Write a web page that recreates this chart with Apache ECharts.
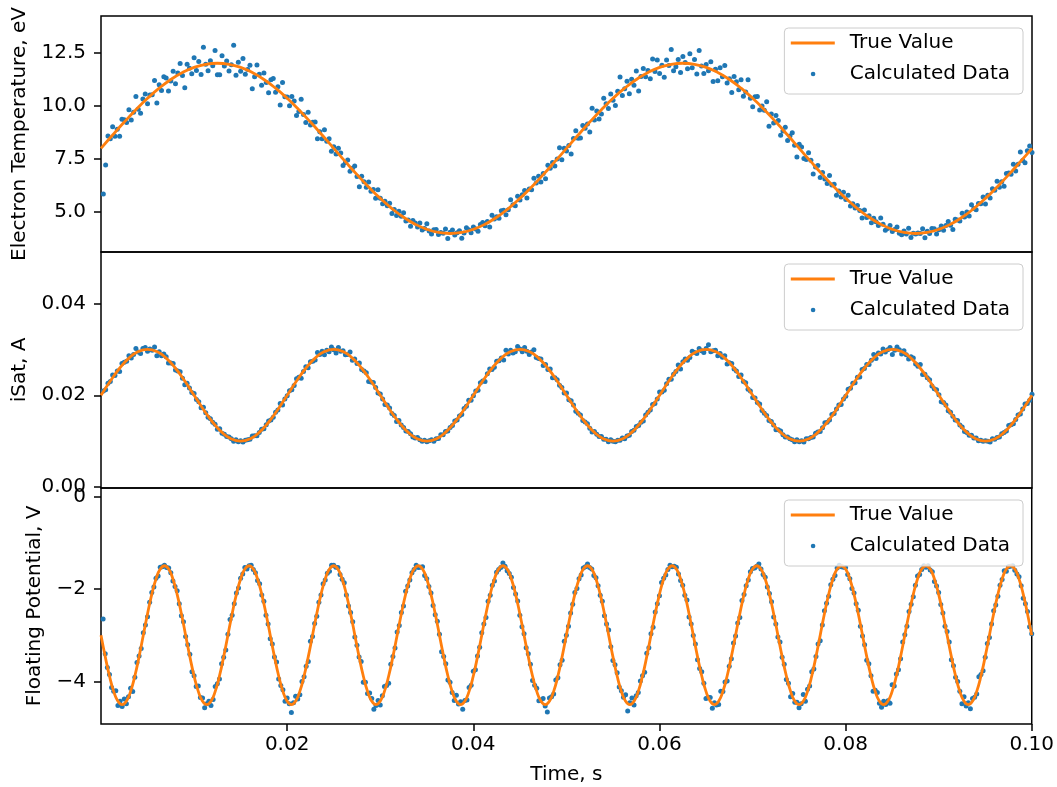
<!DOCTYPE html>
<html><head><meta charset="utf-8">
<script src="https://cdn.jsdelivr.net/npm/echarts@6/dist/echarts.min.js"></script>
<style>html,body{margin:0;padding:0;background:#fff}#c{width:1057px;height:787px}</style>
</head><body><div id="c"></div><script>
// ---------- sampling of the time axis (s) ----------
const tempTimeStep = 0.00025;   // Calculated Data samples, Electron Temperature
const isatTimeStep = 0.00025;   // Calculated Data samples, iSat
const vfTimeStep = 0.1 / 440;   // Calculated Data samples, Floating Potential
const tempTrueStep = 0.00125;   // True Value samples
const isatTrueStep = 0.001;
const vfTrueStep = 0.1 / 220;

// ---------- Electron Temperature, eV ----------
const tempData = [
5.85,7.22,8.58,8.45,9.02,8.57,8.90,8.57,9.37,9.35,
9.22,9.81,9.33,9.70,10.44,9.84,9.65,10.32,10.56,10.10,
10.51,10.52,11.19,10.13,10.99,10.72,11.36,11.31,10.69,11.17,
11.62,11.04,11.54,11.99,11.42,10.85,11.95,11.76,11.51,12.26,
11.66,12.08,11.47,12.75,11.95,11.65,12.12,11.88,12.60,11.46,
11.46,12.35,11.87,12.11,11.63,11.93,12.85,11.44,12.05,11.62,
12.22,11.48,11.71,11.90,10.80,11.37,11.92,11.48,10.97,11.54,
11.09,10.61,11.23,11.28,10.64,10.90,10.04,11.09,10.42,10.41,
10.00,10.44,10.22,9.54,9.73,10.31,9.59,9.21,9.70,9.10,
9.23,9.24,8.45,8.78,8.45,8.88,8.33,8.45,7.86,8.07,
7.73,8.00,7.78,7.19,7.33,7.45,6.92,7.06,7.17,6.68,
6.20,6.69,6.43,6.17,6.42,5.98,6.07,5.65,6.06,5.65,
5.40,5.51,5.30,5.42,4.94,5.13,4.84,5.04,4.81,4.97,
4.59,4.63,4.34,4.61,4.49,4.31,4.49,4.16,4.24,4.46,
4.12,3.97,4.17,4.19,3.95,4.05,4.01,4.21,3.77,4.06,
4.16,3.93,4.03,4.13,3.78,4.02,4.27,4.17,4.04,4.31,
4.21,4.10,4.42,4.52,4.36,4.56,4.30,4.86,4.68,4.79,
4.72,5.07,5.09,4.88,5.12,5.59,5.35,5.30,5.75,5.57,
5.82,6.02,5.67,6.09,6.05,6.59,6.37,6.69,6.42,6.82,
6.57,7.21,7.07,7.34,7.17,7.50,8.03,7.47,8.01,7.88,
8.13,7.73,8.46,8.83,8.47,8.49,9.08,8.95,9.15,8.77,
9.89,9.33,9.76,9.38,9.61,10.35,10.10,9.87,10.56,10.26,
10.01,10.68,11.35,10.48,10.80,11.15,10.57,11.25,10.96,11.64,
10.70,11.38,11.75,11.37,11.66,11.27,12.20,11.61,12.15,11.52,
11.91,11.34,12.15,11.89,12.65,11.65,11.84,12.17,11.57,12.32,
12.04,11.74,12.45,11.79,12.17,11.50,12.60,11.87,11.52,11.94,
11.65,12.07,11.14,11.72,11.18,11.79,11.37,11.89,11.07,11.27,
10.62,11.38,11.13,10.76,11.22,10.45,10.65,11.22,10.36,9.95,
10.43,10.44,9.80,9.99,9.79,10.19,9.04,9.61,9.19,9.54,
9.31,8.62,8.82,8.99,8.37,8.58,8.73,8.15,7.59,8.19,
8.06,7.52,7.48,7.79,7.44,6.79,7.13,7.19,6.63,6.86,
6.56,6.35,6.72,6.28,6.31,5.80,6.00,5.72,5.94,5.60,
5.80,5.29,5.40,5.20,5.31,5.08,4.73,5.10,4.75,4.83,
4.51,4.72,4.55,4.38,4.73,4.43,4.15,4.24,4.37,4.09,
4.19,4.30,4.01,3.94,4.12,3.97,4.25,3.81,4.01,3.98,
4.02,4.00,4.22,3.80,4.11,4.00,4.24,4.22,3.98,4.17,
4.35,4.15,4.37,4.56,4.39,4.19,4.67,4.63,4.59,4.95,
4.77,5.01,4.82,5.35,5.17,5.12,5.41,5.40,5.72,5.39,
5.80,5.67,6.10,6.03,6.46,6.17,6.43,6.22,6.82,6.84,
6.78,7.25,6.94,7.25,7.83,7.43,7.32,7.89,8.11,7.81
];
const tempTrue = [
8,8.626,9.236,9.816,10.351,10.828,11.236,11.564,11.804,11.951,12,11.951,11.804,11.564,11.236,10.828,10.351,9.816,9.236,8.626,
8,7.374,6.764,6.184,5.649,5.172,4.764,4.436,4.196,4.049,4,4.049,4.196,4.436,4.764,5.172,5.649,6.184,6.764,7.374,
8,8.626,9.236,9.816,10.351,10.828,11.236,11.564,11.804,11.951,12,11.951,11.804,11.564,11.236,10.828,10.351,9.816,9.236,8.626,
8,7.374,6.764,6.184,5.649,5.172,4.764,4.436,4.196,4.049,4,4.049,4.196,4.436,4.764,5.172,5.649,6.184,6.764,7.374,
8
];

// ---------- iSat, A ----------
const isatData = [
0.0209,0.0212,0.0226,0.0230,0.0244,0.0243,0.0253,0.0252,0.0269,0.0272,
0.0274,0.0286,0.0281,0.0289,0.0302,0.0294,0.0291,0.0302,0.0304,0.0296,
0.0301,0.0298,0.0305,0.0286,0.0295,0.0286,0.0290,0.0284,0.0270,0.0270,
0.0269,0.0255,0.0253,0.0251,0.0237,0.0223,0.0226,0.0216,0.0206,0.0204,
0.0191,0.0186,0.0173,0.0174,0.0162,0.0152,0.0149,0.0141,0.0137,0.0126,
0.0127,0.0117,0.0115,0.0110,0.0109,0.0105,0.0100,0.0103,0.0099,0.0101,
0.0098,0.0102,0.0103,0.0104,0.0111,0.0112,0.0112,0.0119,0.0126,0.0127,
0.0136,0.0144,0.0146,0.0152,0.0163,0.0168,0.0182,0.0179,0.0192,0.0199,
0.0210,0.0212,0.0221,0.0236,0.0239,0.0237,0.0252,0.0262,0.0260,0.0273,
0.0274,0.0277,0.0293,0.0289,0.0296,0.0288,0.0298,0.0295,0.0305,0.0299,
0.0292,0.0304,0.0296,0.0297,0.0288,0.0289,0.0294,0.0276,0.0279,0.0269,
0.0270,0.0256,0.0253,0.0249,0.0230,0.0229,0.0228,0.0217,0.0205,0.0203,
0.0192,0.0180,0.0179,0.0172,0.0160,0.0156,0.0143,0.0145,0.0135,0.0130,
0.0122,0.0121,0.0116,0.0109,0.0107,0.0108,0.0103,0.0100,0.0102,0.0099,
0.0101,0.0103,0.0100,0.0105,0.0106,0.0114,0.0114,0.0121,0.0122,0.0130,
0.0134,0.0144,0.0146,0.0155,0.0158,0.0171,0.0176,0.0189,0.0189,0.0199,
0.0209,0.0211,0.0227,0.0231,0.0230,0.0247,0.0257,0.0256,0.0261,0.0274,
0.0275,0.0281,0.0277,0.0298,0.0290,0.0298,0.0292,0.0295,0.0306,0.0301,
0.0295,0.0304,0.0296,0.0289,0.0294,0.0299,0.0282,0.0280,0.0279,0.0265,
0.0267,0.0256,0.0257,0.0238,0.0238,0.0234,0.0222,0.0217,0.0205,0.0205,
0.0190,0.0188,0.0179,0.0165,0.0161,0.0157,0.0145,0.0142,0.0138,0.0128,
0.0120,0.0121,0.0115,0.0110,0.0110,0.0104,0.0104,0.0099,0.0103,0.0100,
0.0099,0.0102,0.0102,0.0107,0.0105,0.0111,0.0113,0.0121,0.0124,0.0132,
0.0134,0.0141,0.0144,0.0157,0.0163,0.0168,0.0180,0.0182,0.0192,0.0207,
0.0207,0.0211,0.0225,0.0235,0.0235,0.0246,0.0252,0.0266,0.0257,0.0273,
0.0279,0.0276,0.0282,0.0296,0.0293,0.0291,0.0302,0.0297,0.0293,0.0302,
0.0310,0.0295,0.0297,0.0298,0.0286,0.0291,0.0283,0.0286,0.0268,0.0271,
0.0269,0.0257,0.0253,0.0241,0.0244,0.0230,0.0227,0.0213,0.0209,0.0195,
0.0194,0.0184,0.0181,0.0167,0.0161,0.0156,0.0145,0.0143,0.0135,0.0125,
0.0125,0.0122,0.0114,0.0109,0.0109,0.0105,0.0103,0.0099,0.0103,0.0099,
0.0101,0.0098,0.0105,0.0105,0.0108,0.0109,0.0117,0.0120,0.0121,0.0129,
0.0140,0.0141,0.0146,0.0158,0.0160,0.0170,0.0179,0.0180,0.0192,0.0198,
0.0213,0.0215,0.0226,0.0227,0.0239,0.0240,0.0256,0.0258,0.0267,0.0267,
0.0276,0.0289,0.0280,0.0292,0.0290,0.0301,0.0294,0.0299,0.0304,0.0289,
0.0298,0.0305,0.0299,0.0290,0.0297,0.0288,0.0279,0.0284,0.0281,0.0268,
0.0263,0.0267,0.0245,0.0246,0.0238,0.0234,0.0220,0.0214,0.0212,0.0201,
0.0186,0.0184,0.0179,0.0166,0.0163,0.0154,0.0146,0.0145,0.0135,0.0131,
0.0121,0.0119,0.0113,0.0113,0.0107,0.0107,0.0101,0.0102,0.0100,0.0101,
0.0100,0.0098,0.0105,0.0104,0.0108,0.0109,0.0116,0.0119,0.0122,0.0134,
0.0136,0.0138,0.0147,0.0157,0.0159,0.0170,0.0181,0.0182,0.0189,0.0202
];
const isatTrue = [
0.02,0.02309,0.02588,0.02809,0.02951,0.03,0.02951,0.02809,0.02588,0.02309,0.02,0.01691,0.01412,0.01191,0.01049,0.01,0.01049,0.01191,0.01412,0.01691,
0.02,0.02309,0.02588,0.02809,0.02951,0.03,0.02951,0.02809,0.02588,0.02309,0.02,0.01691,0.01412,0.01191,0.01049,0.01,0.01049,0.01191,0.01412,0.01691,
0.02,0.02309,0.02588,0.02809,0.02951,0.03,0.02951,0.02809,0.02588,0.02309,0.02,0.01691,0.01412,0.01191,0.01049,0.01,0.01049,0.01191,0.01412,0.01691,
0.02,0.02309,0.02588,0.02809,0.02951,0.03,0.02951,0.02809,0.02588,0.02309,0.02,0.01691,0.01412,0.01191,0.01049,0.01,0.01049,0.01191,0.01412,0.01691,
0.02,0.02309,0.02588,0.02809,0.02951,0.03,0.02951,0.02809,0.02588,0.02309,0.02,0.01691,0.01412,0.01191,0.01049,0.01,0.01049,0.01191,0.01412,0.01691,
0.02
];

// ---------- Floating Potential, V ----------
const vfData = [
-2.65,-3.40,-3.70,-3.85,-4.13,-4.21,-4.20,-4.52,-4.43,-4.54,
-4.38,-4.48,-4.33,-4.15,-4.22,-3.91,-3.59,-3.45,-3.29,-2.95,
-2.78,-2.60,-2.29,-2.08,-1.96,-1.77,-1.72,-1.53,-1.52,-1.49,
-1.54,-1.55,-1.65,-1.83,-1.95,-2.04,-2.32,-2.58,-2.71,-3.03,
-3.21,-3.41,-3.79,-3.88,-4.11,-4.10,-4.35,-4.36,-4.57,-4.48,
-4.43,-4.52,-4.39,-4.11,-4.05,-3.95,-3.62,-3.48,-3.32,-2.98,
-2.66,-2.57,-2.32,-2.09,-1.98,-1.77,-1.68,-1.54,-1.57,-1.50,
-1.49,-1.58,-1.65,-1.82,-1.89,-2.13,-2.27,-2.57,-2.76,-3.08,
-3.19,-3.47,-3.58,-3.95,-4.09,-4.18,-4.43,-4.36,-4.48,-4.67,
-4.46,-4.32,-4.38,-4.29,-4.00,-3.90,-3.67,-3.57,-3.13,-3.03,
-2.75,-2.59,-2.29,-2.13,-1.89,-1.81,-1.66,-1.62,-1.49,-1.49,
-1.53,-1.54,-1.69,-1.79,-1.87,-2.13,-2.37,-2.51,-2.71,-3.04,
-3.22,-3.47,-3.57,-4.02,-4.02,-4.26,-4.25,-4.37,-4.60,-4.52,
-4.41,-4.51,-4.31,-4.11,-4.09,-4.04,-3.63,-3.46,-3.28,-2.93,
-2.79,-2.51,-2.37,-2.05,-1.94,-1.81,-1.65,-1.58,-1.49,-1.54,
-1.53,-1.52,-1.71,-1.78,-1.95,-2.09,-2.36,-2.56,-2.70,-2.98,
-3.36,-3.46,-3.62,-3.97,-4.02,-4.24,-4.41,-4.30,-4.49,-4.44,
-4.60,-4.41,-4.40,-4.13,-4.08,-3.78,-3.75,-3.45,-3.26,-2.95,
-2.76,-2.62,-2.27,-2.14,-1.92,-1.83,-1.64,-1.58,-1.54,-1.44,
-1.51,-1.61,-1.67,-1.75,-1.97,-2.11,-2.26,-2.57,-2.82,-2.97,
-3.27,-3.40,-3.63,-3.98,-4.08,-4.15,-4.42,-4.40,-4.37,-4.53,
-4.66,-4.36,-4.33,-4.27,-3.97,-3.92,-3.64,-3.54,-3.13,-3.00,
-2.81,-2.52,-2.33,-2.08,-1.99,-1.78,-1.70,-1.55,-1.52,-1.46,
-1.54,-1.57,-1.71,-1.76,-1.93,-2.14,-2.27,-2.58,-2.76,-2.89,
-3.25,-3.55,-3.64,-3.81,-4.12,-4.20,-4.34,-4.29,-4.64,-4.46,
-4.36,-4.51,-4.31,-4.24,-3.99,-3.88,-3.80,-3.39,-3.27,-2.97,
-2.83,-2.50,-2.32,-2.15,-1.86,-1.77,-1.70,-1.58,-1.49,-1.52,
-1.51,-1.53,-1.68,-1.82,-1.92,-2.14,-2.24,-2.61,-2.76,-3.01,
-3.19,-3.53,-3.72,-3.79,-4.04,-4.37,-4.34,-4.35,-4.58,-4.46,
-4.51,-4.50,-4.21,-4.22,-4.01,-3.99,-3.67,-3.51,-3.17,-3.02,
-2.74,-2.62,-2.25,-2.12,-1.93,-1.81,-1.63,-1.56,-1.55,-1.51,
-1.46,-1.57,-1.69,-1.75,-1.96,-2.10,-2.28,-2.61,-2.76,-3.04,
-3.15,-3.48,-3.63,-3.96,-4.04,-4.33,-4.26,-4.45,-4.45,-4.57,
-4.48,-4.28,-4.43,-4.17,-4.10,-3.79,-3.73,-3.46,-3.19,-3.12,
-2.78,-2.47,-2.31,-2.16,-1.91,-1.79,-1.71,-1.55,-1.49,-1.52,
-1.53,-1.54,-1.69,-1.78,-1.99,-2.09,-2.32,-2.46,-2.81,-3.02,
-3.21,-3.54,-3.62,-3.88,-4.21,-4.19,-4.24,-4.47,-4.56,-4.43,
-4.50,-4.42,-4.47,-4.07,-4.10,-3.84,-3.75,-3.51,-3.15,-2.99,
-2.81,-2.49,-2.33,-2.17,-1.92,-1.72,-1.69,-1.58,-1.50,-1.53,
-1.50,-1.59,-1.63,-1.84,-1.94,-2.08,-2.34,-2.52,-2.81,-2.92,
-3.15,-3.53,-3.66,-3.91,-4.00,-4.21,-4.48,-4.33,-4.53,-4.46,
-4.59,-4.37,-4.34,-4.27,-3.90,-3.85,-3.77,-3.48,-3.18,-3.05,
-2.76,-2.47,-2.35,-2.16,-1.92,-1.80,-1.61,-1.62,-1.52,-1.51,
-1.50,-1.60,-1.68,-1.74,-1.93,-2.20,-2.32,-2.49,-2.82,-2.97
];
const vfTrue = [
-3,-3.464,-3.882,-4.214,-4.427,-4.5,-4.427,-4.214,-3.882,-3.464,-3,-2.536,-2.118,-1.786,-1.573,-1.5,-1.573,-1.786,-2.118,-2.536,
-3,-3.464,-3.882,-4.214,-4.427,-4.5,-4.427,-4.214,-3.882,-3.464,-3,-2.536,-2.118,-1.786,-1.573,-1.5,-1.573,-1.786,-2.118,-2.536,
-3,-3.464,-3.882,-4.214,-4.427,-4.5,-4.427,-4.214,-3.882,-3.464,-3,-2.536,-2.118,-1.786,-1.573,-1.5,-1.573,-1.786,-2.118,-2.536,
-3,-3.464,-3.882,-4.214,-4.427,-4.5,-4.427,-4.214,-3.882,-3.464,-3,-2.536,-2.118,-1.786,-1.573,-1.5,-1.573,-1.786,-2.118,-2.536,
-3,-3.464,-3.882,-4.214,-4.427,-4.5,-4.427,-4.214,-3.882,-3.464,-3,-2.536,-2.118,-1.786,-1.573,-1.5,-1.573,-1.786,-2.118,-2.536,
-3,-3.464,-3.882,-4.214,-4.427,-4.5,-4.427,-4.214,-3.882,-3.464,-3,-2.536,-2.118,-1.786,-1.573,-1.5,-1.573,-1.786,-2.118,-2.536,
-3,-3.464,-3.882,-4.214,-4.427,-4.5,-4.427,-4.214,-3.882,-3.464,-3,-2.536,-2.118,-1.786,-1.573,-1.5,-1.573,-1.786,-2.118,-2.536,
-3,-3.464,-3.882,-4.214,-4.427,-4.5,-4.427,-4.214,-3.882,-3.464,-3,-2.536,-2.118,-1.786,-1.573,-1.5,-1.573,-1.786,-2.118,-2.536,
-3,-3.464,-3.882,-4.214,-4.427,-4.5,-4.427,-4.214,-3.882,-3.464,-3,-2.536,-2.118,-1.786,-1.573,-1.5,-1.573,-1.786,-2.118,-2.536,
-3,-3.464,-3.882,-4.214,-4.427,-4.5,-4.427,-4.214,-3.882,-3.464,-3,-2.536,-2.118,-1.786,-1.573,-1.5,-1.573,-1.786,-2.118,-2.536,
-3,-3.464,-3.882,-4.214,-4.427,-4.5,-4.427,-4.214,-3.882,-3.464,-3,-2.536,-2.118,-1.786,-1.573,-1.5,-1.573,-1.786,-2.118,-2.536,
-3
];

// ---------- axis ticks ----------
const xTicks = [0.02, 0.04, 0.06, 0.08, 0.10];
const tempTicks = [5, 7.5, 10, 12.5];
const isatTicks = [0, 0.02, 0.04];
const vfTicks = [-4, -2, 0];
const tempRange = [3.13, 14.22];
const isatRange = [-0.0002, 0.0512];
const vfRange = [-4.92, 0.18];

// ---------- chart ----------
const FONT = 'DejaVu Sans';
const BLUE = '#1f77b4', ORANGE = '#ff7f0e';
const TXT = { fontFamily: FONT, fontSize: 20, color: '#000' };
const gridTops = [16, 252, 488];

function toPairs(values, step, startIndex) {
  return values.map((v, i) => [(i + startIndex) * step, v]);
}

const DOT_ICON = 'path://M0,0L0,0M44,14L44,14M20,7A2.3,2.3,0,1,1,24.6,7A2.3,2.3,0,1,1,20,7Z';

const grid = gridTops.map(t => ({
  left: 101, right: 25, top: t, height: 236,
  show: true, borderColor: '#000', borderWidth: 1.5, backgroundColor: 'transparent'
}));

const xAxis = [0, 1, 2].map(g => {
  const bottom = g === 2;
  return {
    gridIndex: g, type: 'value', min: 0, max: 0.1, position: 'bottom',
    axisLine: { show: false, onZero: false },
    splitLine: { show: false },
    axisTick: bottom
      ? { show: true, customValues: xTicks, length: 7, lineStyle: { color: '#000', width: 1.5 } }
      : { show: false },
    axisLabel: bottom
      ? { show: true, customValues: xTicks, margin: 11, formatter: v => v.toFixed(2), ...TXT }
      : { show: false },
    name: bottom ? 'Time, s' : '', nameLocation: 'middle', nameGap: 41, nameTextStyle: TXT
  };
});

function yAx(g, range, ticks, fmt, name, gap) {
  return {
    gridIndex: g, type: 'value', min: range[0], max: range[1], position: 'left',
    axisLine: { show: false, onZero: false },
    splitLine: { show: false },
    axisTick: { show: true, customValues: ticks, length: 7, lineStyle: { color: '#000', width: 1.5 } },
    axisLabel: { customValues: ticks, margin: 15, formatter: fmt, ...TXT },
    name: name, nameLocation: 'middle', nameGap: gap, nameTextStyle: TXT
  };
}

const yAxis = [
  yAx(0, tempRange, tempTicks, v => v.toFixed(1), 'Electron Temperature, eV', 71),
  yAx(1, isatRange, isatTicks, v => v.toFixed(2), 'iSat, A', 71),
  yAx(2, vfRange, vfTicks, v => (v < 0 ? '\u2212' + Math.abs(v).toFixed(0) : v.toFixed(0)), 'Floating Potential, V', 56)
];

const legend = gridTops.map(t => ({
  top: t + 12, right: 34, orient: 'vertical', selectedMode: false,
  backgroundColor: 'rgba(255,255,255,0.8)', borderColor: '#cccccc', borderWidth: 1, borderRadius: 4,
  padding: [5, 13, 10, 5], itemGap: 11, itemWidth: 44, itemHeight: 14,
  lineStyle: { width: 2.8 },
  textStyle: { ...TXT, lineHeight: 20, padding: [0, 0, 0, 10] },
  data: [
    { name: 'True Value', itemStyle: { color: 'transparent', borderColor: 'transparent', borderWidth: 0 } },
    { name: 'Calculated Data', icon: DOT_ICON, itemStyle: { borderWidth: 0, opacity: 1 } }
  ]
}));

const sets = [
  [tempData, tempTimeStep, tempTrue, tempTrueStep],
  [isatData, isatTimeStep, isatTrue, isatTrueStep],
  [vfData, vfTimeStep, vfTrue, vfTrueStep]
];
const series = [];
sets.forEach((s, g) => {
  series.push({
    type: 'scatter', name: 'Calculated Data', xAxisIndex: g, yAxisIndex: g,
    data: toPairs(s[0], s[1], 1), symbolSize: 5, itemStyle: { color: BLUE, opacity: 1 }, z: 2, silent: true
  });
  series.push({
    type: 'line', name: 'True Value', xAxisIndex: g, yAxisIndex: g,
    data: toPairs(s[2], s[3], 0), showSymbol: false, symbol: 'none', smooth: true,
    lineStyle: { color: ORANGE, width: 2.8 }, itemStyle: { color: ORANGE }, z: 3, silent: true
  });
});

const chart = echarts.init(document.getElementById('c'), null, { renderer: 'canvas' });
chart.setOption({
  backgroundColor: '#fff', animation: false,
  grid, xAxis, yAxis, legend, series
});
</script></body></html>
